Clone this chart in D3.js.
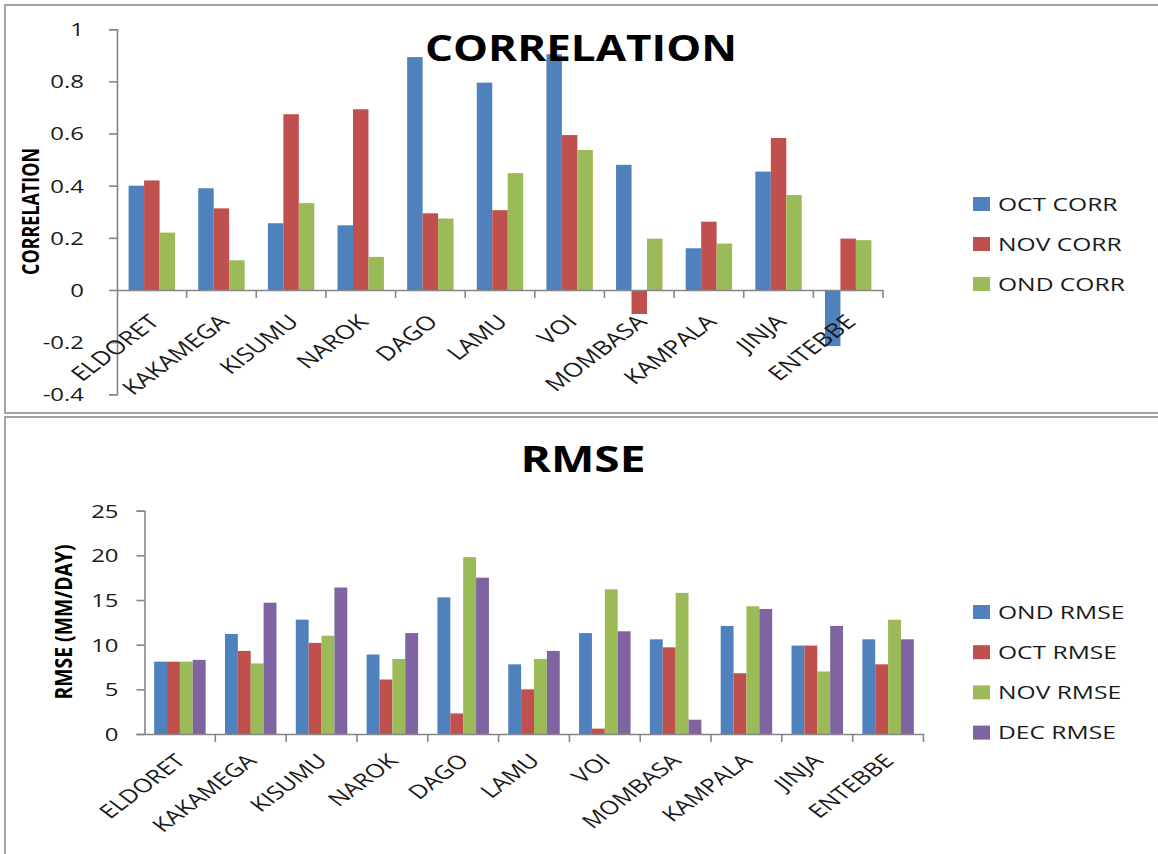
<!DOCTYPE html>
<html>
<head>
<meta charset="utf-8">
<script src="https://cdn.jsdelivr.net/npm/d3@7"></script>
<style>
  html, body { margin: 0; padding: 0; background: #fff; }
  svg { display: block; font-family: "Open Sans", "Liberation Sans", sans-serif; }
</style>
</head>
<body>
<svg id="chart" width="1158" height="854"></svg>
<script>
// Stations shared by both panels
const categories = ["ELDORET", "KAKAMEGA", "KISUMU", "NAROK", "DAGO", "LAMU", "VOI", "MOMBASA", "KAMPALA", "JINJA", "ENTEBBE"];

// Correlation per station
const corrSeries = ["OCT CORR", "NOV CORR", "OND CORR"];
const corrOct = [0.40, 0.39, 0.256, 0.248, 0.893, 0.795, 0.904, 0.48, 0.16, 0.454, -0.215];
const corrNov = [0.42, 0.313, 0.674, 0.693, 0.294, 0.306, 0.594, -0.092, 0.262, 0.583, 0.197];
const corrOnd = [0.22, 0.114, 0.333, 0.127, 0.274, 0.448, 0.537, 0.197, 0.178, 0.364, 0.191];
const corrTicks = [-0.4, -0.2, 0, 0.2, 0.4, 0.6, 0.8, 1];

// RMSE (mm/day) per station
const rmseSeries = ["OND RMSE", "OCT RMSE", "NOV RMSE", "DEC RMSE"];
const rmseOnd = [8.1, 11.2, 12.8, 8.9, 15.3, 7.8, 11.3, 10.6, 12.1, 9.9, 10.6];
const rmseOct = [8.1, 9.3, 10.2, 6.1, 2.3, 5.0, 0.6, 9.7, 6.8, 9.9, 7.8];
const rmseNov = [8.1, 7.9, 11.0, 8.4, 19.8, 8.4, 16.2, 15.8, 14.3, 7.0, 12.8];
const rmseDec = [8.3, 14.7, 16.4, 11.3, 17.5, 9.3, 11.5, 1.6, 14.0, 12.1, 10.6];
const rmseTicks = [0, 5, 10, 15, 20, 25];

const colors = ["#4F81BD", "#C0504D", "#9BBB59", "#8064A2"];
const axisColor = "#868686";
const SX = 1.33; // horizontal widening of the text glyphs

const svg = d3.select("#chart");
svg.append("rect").attr("width", 1158).attr("height", 854).attr("fill", "#fff");

function drawPanel(cfg) {
  const g = svg.append("g");

  // panel frame
  g.append("rect")
    .attr("x", cfg.frame[0]).attr("y", cfg.frame[1])
    .attr("width", cfg.frame[2]).attr("height", cfg.frame[3])
    .attr("fill", "none").attr("stroke", "#8e8e8e").attr("stroke-width", 1.6);

  const x0 = d3.scaleBand().domain(categories).range(cfg.xRange).padding(0);
  const x1 = d3.scaleBand().domain(d3.range(cfg.series.length))
    .range([0, x0.bandwidth()]).paddingInner(0).paddingOuter(0.75);
  const y = d3.scaleLinear().domain(cfg.yDomain).range(cfg.yRange);

  // bars
  cfg.values.forEach((vals, si) => {
    g.append("g").selectAll("rect").data(vals).join("rect")
      .attr("x", (d, i) => x0(categories[i]) + x1(si))
      .attr("width", x1.bandwidth())
      .attr("y", d => y(Math.max(0, d)))
      .attr("height", d => Math.abs(y(d) - y(0)))
      .attr("fill", colors[si]);
  });

  // y axis
  const yAxis = g.append("g")
    .attr("transform", `translate(${cfg.xRange[0]},0)`)
    .call(d3.axisLeft(y).tickValues(cfg.yTicks).tickSize(8).tickFormat(cfg.yFormat));
  yAxis.select(".domain").attr("stroke", axisColor).attr("stroke-width", 1.6);
  yAxis.selectAll(".tick line").attr("stroke", axisColor).attr("stroke-width", 1.6);
  yAxis.selectAll(".tick text")
    .attr("x", 0).attr("dy", "0.36em")
    .attr("transform", `translate(${-cfg.yLabelGap},0) scale(${SX},1)`)
    .attr("font-size", cfg.tickFont).attr("fill", "#1a1a1a")
    .attr("font-family", "Open Sans");

  // x axis on the zero line, ticks at category boundaries
  const zeroY = y(0);
  const xAxis = g.append("g")
    .attr("transform", `translate(0,${zeroY})`)
    .call(d3.axisBottom(x0).tickSize(0).tickPadding(0));
  xAxis.select(".domain").attr("stroke", axisColor).attr("stroke-width", 1.6);
  xAxis.selectAll(".tick text")
    .attr("x", 0).attr("y", 0).attr("dy", 0)
    .attr("text-anchor", "end")
    .attr("transform", `translate(${cfg.xLabelOffset[0]},${cfg.xLabelOffset[1]}) scale(${SX},1) rotate(-45)`)
    .attr("font-size", cfg.xFont).attr("fill", "#1a1a1a")
    .attr("font-family", "Open Sans");
  const bounds = categories.map(c => x0(c)).concat([cfg.xRange[1]]).slice(1);
  xAxis.append("g").selectAll("line").data(bounds).join("line")
    .attr("x1", d => d).attr("x2", d => d)
    .attr("y1", 0).attr("y2", 8)
    .attr("stroke", axisColor).attr("stroke-width", 1.6);

  // chart title
  g.append("text")
    .attr("x", cfg.title.x).attr("y", cfg.title.y)
    .attr("text-anchor", "middle")
    .attr("font-size", 36).attr("font-weight", "bold")
    .attr("textLength", cfg.title.w).attr("lengthAdjust", "spacingAndGlyphs")
    .attr("fill", "#000")
    .text(cfg.title.text);

  // y axis title
  g.append("text")
    .attr("transform", `translate(${cfg.yTitle.x},${cfg.yTitle.y}) scale(${SX},1) rotate(-90)`)
    .attr("text-anchor", "middle").attr("dy", "0.36em")
    .attr("font-size", 17).attr("font-weight", "bold")
    .attr("textLength", cfg.yTitle.len).attr("lengthAdjust", "spacingAndGlyphs")
    .attr("fill", "#000")
    .text(cfg.yTitle.text);

  // legend
  const lg = g.append("g");
  cfg.series.forEach((name, i) => {
    const cy = cfg.legend.y0 + i * cfg.legend.step;
    lg.append("rect")
      .attr("x", 973).attr("y", cy - 7).attr("width", 17).attr("height", 14)
      .attr("fill", colors[i]);
    lg.append("text")
      .attr("transform", `translate(998,${cy}) scale(${SX},1)`)
      .attr("dy", "0.36em")
      .attr("font-size", 18.5).attr("fill", "#1a1a1a")
      .text(name);
  });
}

drawPanel({
  frame: [5, 5, 1170, 408],
  xRange: [117, 883],
  yDomain: [-0.4, 1],
  yRange: [394.3, 29.2],
  yTicks: corrTicks,
  yFormat: d => (Math.abs(d) < 1e-9 ? "0" : String(+d.toFixed(1))),
  yLabelGap: 33,
  tickFont: 18,
  xFont: 19.5,
  xLabelOffset: [9, 33],
  series: corrSeries,
  values: [corrOct, corrNov, corrOnd],
  title: { text: "CORRELATION", x: 581, y: 61, w: 312 },
  yTitle: { text: "CORRELATION", x: 30.5, y: 211.5, len: 127 },
  legend: { y0: 204, step: 40 }
});

drawPanel({
  frame: [5, 417, 1170, 460],
  xRange: [144.5, 923.5],
  yDomain: [0, 25],
  yRange: [734, 510.7],
  yTicks: rmseTicks,
  yFormat: d => String(d),
  yLabelGap: 26,
  tickFont: 18,
  xFont: 19,
  xLabelOffset: [7, 28],
  series: rmseSeries,
  values: [rmseOnd, rmseOct, rmseNov, rmseDec],
  title: { text: "RMSE", x: 583, y: 472, w: 125 },
  yTitle: { text: "RMSE (MM/DAY)", x: 64, y: 622, len: 155 },
  legend: { y0: 612, step: 40.2 }
});
</script>
</body>
</html>
